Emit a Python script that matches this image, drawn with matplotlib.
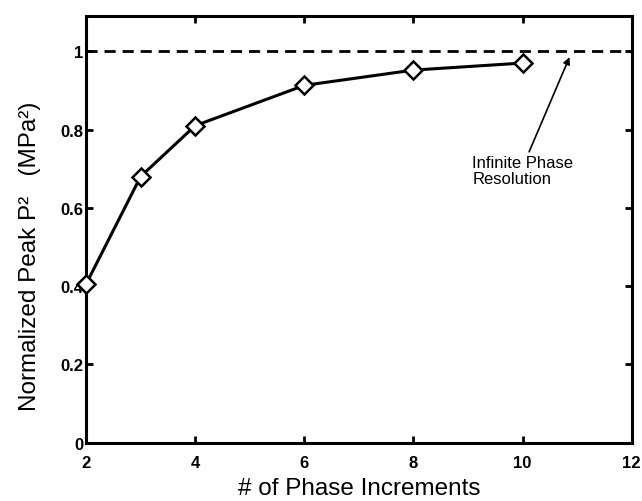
import matplotlib
matplotlib.use("Agg")
import matplotlib.pyplot as plt

# Peak pressure squared vs. number of phase increments
increments = [2, 3, 4, 6, 8, 10]
norm_peak = [0.405, 0.68, 0.81, 0.913, 0.952, 0.97]
xticks = [2, 4, 6, 8, 10, 12]
yticks = [0, 0.2, 0.4, 0.6, 0.8, 1.0]
ytick_labels = ["0", "0.2", "0.4", "0.6", "0.8", "1"]
infinite_level = 1.0

plt.rcParams["font.family"] = ["Liberation Sans", "DejaVu Sans"]

fig = plt.figure(figsize=(6.42, 5.02), dpi=100)
ax = fig.add_axes([0.134, 0.116, 0.850, 0.85])

ax.plot(increments, norm_peak, color="black", lw=2.2, marker="D",
        markersize=9, markerfacecolor="white", markeredgecolor="black",
        markeredgewidth=1.8, zorder=3, clip_on=False)
ax.axhline(infinite_level, color="black", lw=2.0, ls=(0, (4, 2.5)), zorder=2)

ax.set_xlim(2, 12)
ax.set_ylim(0, 1.09)
ax.set_xticks(xticks)
ax.set_xticklabels([str(t) for t in xticks], fontweight="bold", fontsize=12)
ax.set_yticks(yticks)
ax.set_yticklabels(ytick_labels, fontweight="bold", fontsize=12)
ax.tick_params(direction="in", length=5, width=2, top=True, right=True)
ax.tick_params(axis="x", pad=9)
ax.tick_params(axis="y", pad=2)
for s in ax.spines.values():
    s.set_linewidth(2.2)

ax.set_xlabel("# of Phase Increments", fontsize=17.5, labelpad=5)
ax.set_ylabel("Normalized Peak P²   (MPa²)", fontsize=17.5)
ax.yaxis.set_label_coords(-0.082, 0.44)

ax.annotate("Infinite Phase\nResolution", xy=(10.86, 0.985), xytext=(9.08, 0.655),
            fontsize=12, ha="left", va="bottom", linespacing=1.15,
            arrowprops=dict(arrowstyle="-|>", color="black", lw=1.2,
                            mutation_scale=10, shrinkA=0, shrinkB=0,
                            relpos=(0.55, 1.0)))

fig.savefig("out.png", dpi=100)
